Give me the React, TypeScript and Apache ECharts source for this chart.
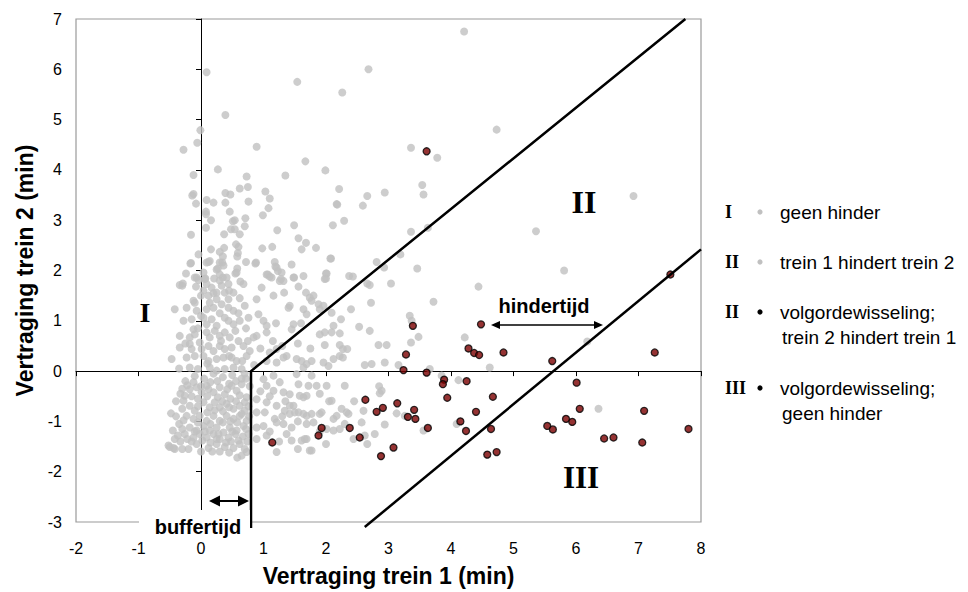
import React, { useEffect, useRef } from "react";
import * as echarts from "echarts";

// ---------- data ----------
const xAxisTitle = "Vertraging trein 1 (min)";
const yAxisTitle = "Vertraging trein 2 (min)";
const xRange = [-2, 8];
const yRange = [-3, 7];

// grey points: geen hinder / trein 1 hindert trein 2
const greyPoints: number[][] = [
  [0.09, 5.94], [0.39, 5.09], [-0.01, 4.79], [-0.06, 4.54], [-0.28, 4.4], [0.89, 4.46], [1.54, 5.75], [2.26, 5.54],
  [1.67, 4.17], [0.27, 4.01], [1.99, 3.99], [-0.12, 3.9], [0.73, 3.87], [0.75, 3.66], [0.62, 3.63], [1.35, 3.89],
  [2.21, 3.62], [-0.12, 3.52], [-0.14, 3.49], [0.39, 3.54], [0.47, 3.51], [1.03, 3.57], [0.09, 3.4], [0.2, 3.35],
  [-0.08, 3.33], [0.39, 3.35], [0.76, 3.37], [1.1, 3.43], [2.17, 3.32], [1.08, 3.24], [0.08, 3.17], [0.08, 3.12],
  [0.46, 3.17], [0.16, 3.0], [0.54, 3.0], [0.51, 2.98], [0.71, 3.04], [0.99, 3.1], [2.29, 2.99], [0.08, 2.85],
  [0.48, 2.82], [0.54, 2.82], [0.7, 2.88], [1.22, 2.8], [1.49, 2.9], [2.11, 2.9], [-0.16, 2.71], [0.37, 2.72],
  [0.62, 2.72], [1.56, 2.64], [1.68, 2.55], [1.61, 2.42], [1.84, 2.45], [0.16, 2.42], [0.56, 2.52], [0.6, 2.47],
  [0.37, 2.45], [0.3, 2.37], [0.59, 2.35], [0.98, 2.44], [1.14, 2.47], [-0.04, 2.32], [0.58, 2.28], [0.35, 2.28],
  [0.09, 2.16], [0.14, 2.19], [-0.16, 2.15], [0.34, 2.16], [0.72, 2.17], [0.88, 2.16], [1.18, 2.17], [2.08, 2.24],
  [0.27, 2.04], [0.58, 2.04], [1.07, 1.92], [1.1, 1.88], [1.19, 2.08], [1.23, 1.99], [-0.24, 1.94], [-0.07, 1.86],
  [-0.04, 1.81], [0.07, 1.84], [0.21, 1.84], [0.3, 1.8], [0.35, 1.86], [0.55, 1.94], [0.63, 1.78], [1.28, 1.83],
  [1.32, 1.79], [1.49, 1.86], [2.0, 1.94], [2.0, 1.84], [2.43, 1.88], [-0.29, 1.74], [-0.3, 1.7], [1.33, 1.56],
  [1.56, 1.68], [1.68, 1.56], [1.8, 1.5],
  [-0.17, 2.14], [0.12, 2.17], [0.3, 2.16], [0.36, 2.1], [0.87, 2.14], [1.21, 2.06], [1.45, 2.12], [-0.1, 1.86],
  [0.04, 1.96], [0.06, 1.83], [0.25, 2.02], [0.3, 1.92], [0.41, 1.86], [0.57, 1.96], [1.05, 1.92], [1.13, 1.86],
  [1.26, 1.79], [1.29, 1.96], [1.48, 1.86], [1.64, 1.89], [-0.34, 1.71], [-0.08, 1.68], [0.09, 1.73], [0.17, 1.66],
  [0.33, 1.7], [0.44, 1.73], [0.68, 1.73], [0.97, 1.66], [0.04, 1.6], [0.12, 1.5], [0.25, 1.56], [0.38, 1.56],
  [0.52, 1.56], [0.89, 1.43], [1.16, 1.5], [-0.12, 1.4], [-0.1, 1.36], [0.14, 1.36], [0.25, 1.43], [0.33, 1.33],
  [0.44, 1.43], [-0.42, 1.23], [-0.23, 1.26], [-0.07, 1.2], [0.09, 1.23], [0.2, 1.26], [0.44, 1.26], [0.52, 1.2],
  [0.76, 1.06], [0.92, 1.13], [1.0, 1.0], [1.05, 0.9], [1.4, 1.26], [1.64, 1.23], [1.69, 1.13], [-0.28, 1.0],
  [-0.15, 1.03], [-0.12, 0.83], [0.04, 1.06], [0.09, 0.93], [0.17, 1.03], [0.25, 0.9], [0.38, 1.06], [0.44, 1.0],
  [0.52, 0.93], [0.62, 1.0], [-0.34, 0.7], [-0.18, 0.67], [-0.1, 0.73], [0.09, 0.77], [0.14, 0.67], [0.22, 0.8],
  [0.3, 0.7], [0.38, 0.77], [0.46, 0.67], [0.84, 0.67], [1.05, 0.77], [-0.34, 0.47], [-0.18, 0.54], [-0.15, 0.44],
  [-0.02, 0.57], [0.01, 0.44], [0.12, 0.5], [0.2, 0.4], [0.3, 0.5], [0.38, 0.44], [0.49, 0.47], [0.68, 0.5],
  [0.78, 0.4], [-0.47, 0.24], [-0.23, 0.27], [-0.1, 0.3], [0.04, 0.3], [0.12, 0.2], [0.25, 0.24], [0.36, 0.27],
  [0.49, 0.27], [0.57, 0.2], [0.73, 0.3], [1.05, 0.2], [1.21, 0.17], [1.32, 0.27], [1.61, 0.2], [1.64, 0.07],
  [-0.18, 0.07], [-0.05, 0.04], [0.14, 0.07], [0.25, 0.01], [0.38, 0.04], [0.52, 0.07], [0.65, 0.04],
  [1.1, 0.37], [1.21, 0.44], [1.37, 0.3], [0.89, 0.7], [1.48, 0.93], [1.9, 0.73], [2.12, 0.9], [2.27, 0.44],
  [0.0, 1.5], [0.2, 1.55], [0.45, 1.6], [0.62, 1.45], [0.7, 1.3], [0.0, 1.1], [0.3, 1.15], [0.6, 1.15],
  [0.72, 0.85], [0.55, 0.8], [-0.05, 0.85], [0.32, 0.6], [0.6, 0.6], [0.75, 0.6], [-0.25, 0.55], [0.45, 0.3],
  [0.66, 0.2], [-0.35, 0.05], [0.1, 0.15], [0.85, 0.12],
  [-0.18, -0.36], [-0.26, -0.49], [-0.28, -0.59], [-0.07, -0.32], [0.01, -0.42], [0.09, -0.29], [0.2, -0.42],
  [0.3, -0.32], [0.38, -0.46], [0.49, -0.29], [0.57, -0.39], [0.65, -0.26], [0.73, -0.52], [-0.18, -0.69],
  [-0.1, -0.79], [-0.23, -0.89], [0.04, -0.62], [0.14, -0.72], [0.22, -0.62], [0.3, -0.72], [0.41, -0.65],
  [0.52, -0.75], [0.62, -0.69], [0.7, -0.79], [-0.48, -0.84], [-0.12, -0.95], [-0.02, -0.89], [0.09, -0.99],
  [0.2, -0.89], [0.3, -0.99], [0.41, -0.89], [0.52, -0.95], [0.62, -0.89], [0.73, -0.99], [-0.18, -1.12],
  [-0.07, -1.18], [0.04, -1.09], [0.14, -1.18], [0.25, -1.12], [0.36, -1.22], [0.46, -1.12], [0.57, -1.18],
  [0.68, -1.09], [-0.37, -1.28], [-0.26, -1.25], [-0.12, -1.32], [-0.02, -1.25], [0.09, -1.32], [0.2, -1.25],
  [0.3, -1.35], [0.44, -1.32], [0.6, -1.38], [-0.5, -1.51], [-0.42, -1.55], [-0.2, -1.55], [-0.07, -1.45],
  [0.12, -1.53], [0.25, -1.45], [0.38, -1.51], [0.52, -1.53], [0.62, -1.45], [0.7, -1.55], [0.65, -1.68],
  [0.73, -1.61], [-0.52, -1.48], [-0.44, -1.53],
  [-0.1, -0.1], [0.05, -0.15], [0.2, -0.05], [0.35, -0.12], [0.5, -0.08], [0.65, -0.15], [-0.25, -0.2],
  [0.15, -0.22], [0.45, -0.25], [0.7, -0.05], [-0.3, -0.75], [-0.35, -1.05], [-0.05, -0.55], [0.27, -0.52],
  [0.47, -0.55], [0.1, -0.82], [0.35, -0.8], [0.58, -1.02], [-0.15, -1.4], [0.15, -1.42], [0.4, -1.42],
  [0.55, -1.25], [-0.3, -0.35], [-0.4, -0.6], [0.0, -1.6], [0.3, -1.6], [0.78, -0.3], [0.76, -1.25], [0.72, -0.15],
  [-0.33, -0.45], [-0.22, -0.28], [-0.12, -0.22], [0.0, -0.3], [0.12, -0.36], [0.26, -0.2], [0.42, -0.36],
  [0.56, -0.2], [0.62, -0.48], [0.1, -0.5], [-0.15, -0.5], [0.34, -0.6], [0.56, -0.6], [0.7, -0.62], [-0.05, -0.7],
  [0.22, -0.78], [0.45, -0.72], [0.65, -0.85], [-0.28, -0.98], [-0.05, -1.02], [0.15, -1.05], [0.35, -1.02],
  [0.47, -1.0], [0.72, -1.15], [-0.45, -1.18], [-0.3, -1.15], [-0.1, -1.2], [0.06, -1.2], [0.28, -1.25],
  [0.5, -1.2], [0.67, -1.3], [-0.33, -1.4], [-0.22, -1.35], [0.02, -1.38], [0.25, -1.35], [0.48, -1.4],
  [0.74, -1.4], [-0.3, -1.55], [0.18, -1.6], [0.45, -1.62], [0.58, -1.72], [-0.4, -0.9], [-0.42, -1.35],
  [0.76, -0.7], [0.77, -0.9],
  [1.0, -0.16], [1.16, -0.09], [1.26, -0.22], [1.16, -0.39], [1.32, -0.42], [0.89, -0.56], [1.05, -0.62],
  [1.56, -0.26], [1.64, -0.52], [1.21, -0.69], [0.89, -0.82], [1.02, -0.82], [1.34, -0.79], [1.42, -0.85],
  [1.56, -0.82], [1.18, -0.95], [1.21, -1.02], [0.89, -1.12], [1.0, -1.09], [1.32, -1.05], [1.45, -1.12],
  [1.69, -1.05], [0.89, -1.35], [1.37, -1.25], [1.45, -1.38], [1.69, -1.35], [1.21, -1.61],
  [1.05, -0.29], [1.42, -0.46], [1.58, -0.49], [1.48, -0.69], [1.69, -0.89], [1.8, -1.02], [1.9, -0.85],
  [2.12, -0.95], [2.33, -0.82], [2.44, -1.35], [1.74, -1.58], [1.05, -1.28],
  [0.95, 0.45], [1.15, 0.6], [1.3, 0.5], [1.55, 0.55], [1.75, 0.45], [1.2, 0.95], [1.6, 0.95], [0.95, -0.4],
  [1.1, -0.5], [1.35, -0.6], [1.9, -0.45], [2.05, -0.6], [1.3, -0.9], [1.55, -1.0], [1.9, -1.2], [1.1, -1.2],
  [1.25, -1.4], [1.55, -1.55], [2.3, -1.05], [2.45, -0.6], [2.0, -1.45],
  [2.07, 2.24], [2.81, 2.17], [2.93, 2.06], [3.46, 2.04], [2.01, 1.94], [1.98, 1.83], [2.37, 1.89], [2.66, 1.74],
  [2.7, 1.71], [3.04, 1.74], [1.74, 1.46], [1.77, 1.4], [1.88, 1.33], [1.96, 1.3], [1.9, 1.23], [1.42, 1.3],
  [2.09, 1.16], [2.4, 1.23], [2.72, 1.36], [3.72, 1.38], [4.44, 1.68], [5.81, 2.0], [3.34, 1.1], [3.37, 1.0],
  [2.24, 1.03], [2.53, 0.88], [2.7, 0.8], [1.45, 0.83], [1.98, 0.77], [2.09, 0.77], [2.22, 0.75], [3.48, 0.68],
  [3.36, 0.57], [4.22, 0.67], [1.98, 0.52], [2.22, 0.52], [2.84, 0.52], [2.97, 0.52], [2.34, 0.44], [2.22, 0.3],
  [2.27, 0.27], [2.12, 0.24], [2.94, 0.17], [2.62, 0.12], [2.73, 0.14], [1.96, 0.17], [2.04, 0.1], [1.53, 0.24],
  [1.69, 0.14], [1.77, 0.2], [3.16, 0.12], [4.62, 0.07], [3.66, 0.04], [3.85, -0.09], [4.12, -0.18], [1.77, -0.09],
  [1.53, -0.06], [1.72, -0.29], [1.85, -0.29], [2.01, -0.29], [2.3, -0.29], [2.85, -0.3], [2.89, -0.39],
  [2.86, -0.44], [2.09, -0.59], [1.69, -0.49], [1.42, -0.69], [1.5, -0.82], [1.64, -0.85], [1.77, -0.85],
  [1.93, -0.82], [2.25, -0.75], [2.17, -0.89], [2.36, -0.85], [2.6, -0.79], [2.57, -1.02], [2.94, -1.06],
  [3.26, -0.89], [3.13, -0.84], [3.56, -1.18], [4.09, -1.05], [2.78, -1.25], [2.62, -1.28], [2.22, -1.15],
  [2.12, -1.18], [2.01, -1.15], [1.66, -1.35], [1.61, -1.38], [1.77, -1.58], [2.66, -1.45],
  [4.21, 6.75], [2.68, 6.0], [4.73, 4.8], [3.36, 4.44], [3.78, 4.24], [3.54, 3.7], [3.56, 3.51], [2.94, 3.55],
  [2.66, 3.48], [2.59, 3.29], [2.18, 3.31], [3.36, 2.77], [3.63, 2.85], [3.19, 2.32], [6.92, 3.48], [5.36, 2.78],
  [6.18, 0.59], [6.36, -0.75],
];

// dark points: volgordewisseling
const darkPoints: number[][] = [
  [3.39, 0.9], [3.28, 0.33], [3.24, 0.02], [3.61, -0.03], [3.89, -0.17], [3.87, -0.26], [4.25, -0.2], [3.94, -0.53],
  [4.67, -0.51], [4.4, -0.81], [4.15, -1.0], [4.24, -1.19], [4.64, -1.15], [4.58, -1.66], [4.73, -1.61], [4.48, 0.93],
  [4.28, 0.45], [4.37, 0.36], [4.45, 0.32], [4.84, 0.37], [5.62, 0.2], [5.54, -1.09], [5.63, -1.16], [5.84, -0.95],
  [5.94, -1.01], [2.63, -0.57], [3.14, -0.64], [2.91, -0.73], [2.81, -0.81], [3.41, -0.77], [3.31, -0.91],
  [3.43, -0.95], [3.63, -1.13], [1.93, -1.13], [1.88, -1.28], [2.38, -1.13], [2.54, -1.32], [3.08, -1.52],
  [2.88, -1.69], [1.14, -1.42], [3.61, 4.37], [7.51, 1.92], [7.26, 0.37], [6.01, -0.23], [6.06, -0.75],
  [7.09, -0.79], [6.45, -1.34], [6.6, -1.32], [7.06, -1.42], [7.8, -1.15],
];

// region boundaries
const boundaryUpper: number[][] = [[0.8, -3.12], [0.8, 0], [7.75, 7]];
const boundaryLower: number[][] = [[2.62, -3.1], [8, 2.42]];

const regionNames = ["I", "II", "III"];
const annotationTexts = ["hindertijd", "buffertijd"];
const legendNumerals = ["I", "II", "II", "III"];
const legendLabels: string[][] = [
  ["geen hinder"],
  ["trein 1 hindert trein 2"],
  ["volgordewisseling;", "trein 2 hindert trein 1"],
  ["volgordewisseling;", "geen hinder"],
];
const legendDotKinds = ["grey", "grey", "dark", "dark"];

// ---------- styling ----------
const SANS = '"Liberation Sans", Arial, Helvetica, sans-serif';
const SERIF = '"Liberation Serif", "Times New Roman", serif';
const GREY = "#c0c0c0";
const DARK = "#7a0000";

function txt(text: string, x: number, y: number, font: string, align = "center", vAlign = "middle") {
  return {
    type: "text",
    z: 60,
    style: {
      text,
      x,
      y,
      font,
      fill: "#000",
      align,
      verticalAlign: vAlign,
      textAlign: align,
      textVerticalAlign: vAlign,
    },
  };
}

function arrow(x1: number, x2: number, y: number, head: number, half: number, width: number) {
  return [
    {
      type: "line",
      z: 60,
      shape: { x1: x1 + head - 1, y1: y, x2: x2 - head + 1, y2: y },
      style: { stroke: "#000", lineWidth: width },
    },
    {
      type: "polygon",
      z: 60,
      shape: { points: [[x1, y], [x1 + head, y - half], [x1 + head, y + half]] },
      style: { fill: "#000" },
    },
    {
      type: "polygon",
      z: 60,
      shape: { points: [[x2, y], [x2 - head, y - half], [x2 - head, y + half]] },
      style: { fill: "#000" },
    },
  ];
}

export default function App() {
  const ref = useRef<HTMLDivElement>(null);

  useEffect(() => {
    if (!ref.current) return;
    const chart = echarts.init(ref.current, undefined, { renderer: "svg" });

    const graphics: any[] = [];
    // region numerals
    const regionPos = [[145, 312, 28], [584, 202, 32], [581, 477, 31]];
    regionNames.forEach((n, i) => {
      const [x, y, s] = regionPos[i];
      graphics.push(txt(n, x, y, `bold ${s}px ${SERIF}`));
    });
    // hindertijd
    graphics.push(txt(annotationTexts[0], 544, 306, `bold 20px ${SANS}`));
    graphics.push(...arrow(491, 603, 325, 9, 4, 1.3));
    // buffertijd (white box hides frame and axis)
    graphics.push({
      type: "rect",
      z: 55,
      shape: { x: 139, y: 510, width: 111, height: 20 },
      style: { fill: "#fff" },
    });
    graphics.push(txt(annotationTexts[1], 198, 527, `bold 20px ${SANS}`));
    graphics.push(...arrow(209, 249, 501, 11, 5.5, 2));

    // legend
    const rowY = [212, 262, 312, 388];
    legendNumerals.forEach((n, i) => {
      const y = rowY[i];
      graphics.push(txt(n, 725, y, `bold 18px ${SERIF}`, "left"));
      graphics.push({
        type: "circle",
        z: 60,
        shape: { cx: 760, cy: y, r: 2.6 },
        style: { fill: legendDotKinds[i] === "grey" ? GREY : "#000" },
      });
      legendLabels[i].forEach((line, j) => {
        graphics.push(txt(line, j === 0 ? 780 : 782, y + j * 25, `19px ${SANS}`, "left"));
      });
    });

    chart.setOption({
      animation: false,
      textStyle: { fontFamily: SANS },
      grid: {
        left: 76,
        top: 19,
        width: 625,
        height: 504,
        show: true,
        borderColor: "#9a9a9a",
        borderWidth: 1.2,
        backgroundColor: "transparent",
      },
      xAxis: [
        {
          type: "value",
          min: xRange[0],
          max: xRange[1],
          interval: 1,
          position: "bottom",
          axisLine: { show: false, onZero: false },
          axisTick: { show: false },
          splitLine: { show: false },
          axisLabel: { fontSize: 16, color: "#000", margin: 18 },
          name: xAxisTitle,
          nameLocation: "middle",
          nameGap: 42,
          nameTextStyle: { fontSize: 23, fontWeight: "bold", color: "#000" },
        },
        {
          type: "value",
          min: xRange[0],
          max: xRange[1],
          interval: 1,
          position: "top",
          axisLine: { show: true, onZero: true, lineStyle: { color: "#000", width: 1 } },
          axisTick: { show: true, inside: true, length: 5, lineStyle: { color: "#000", width: 1 } },
          axisLabel: { show: false },
          splitLine: { show: false },
        },
      ],
      yAxis: [
        {
          type: "value",
          min: yRange[0],
          max: yRange[1],
          interval: 1,
          position: "left",
          axisLine: { show: false, onZero: false },
          axisTick: { show: false },
          splitLine: { show: false },
          axisLabel: { fontSize: 16, color: "#000", margin: 14 },
          name: yAxisTitle,
          nameLocation: "middle",
          nameGap: 40,
          nameTextStyle: { fontSize: 23, fontWeight: "bold", color: "#000" },
        },
        {
          type: "value",
          min: yRange[0],
          max: yRange[1],
          interval: 1,
          position: "right",
          axisLine: { show: true, onZero: true, lineStyle: { color: "#000", width: 1 } },
          axisTick: { show: true, inside: true, length: 5, lineStyle: { color: "#000", width: 1 } },
          axisLabel: { show: false },
          splitLine: { show: false },
        },
      ],
      series: [
        {
          type: "scatter",
          name: "grey",
          data: greyPoints,
          symbol: "circle",
          symbolSize: 8,
          itemStyle: { color: GREY },
          z: 2,
        },
        {
          type: "scatter",
          name: "dark",
          data: darkPoints,
          symbol: "circle",
          symbolSize: 7,
          itemStyle: { color: DARK, borderColor: "#000", borderWidth: 1.3 },
          z: 3,
        },
        {
          type: "line",
          data: boundaryUpper,
          symbol: "none",
          clip: false,
          lineStyle: { color: "#000", width: 2.5 },
          z: 4,
        },
        {
          type: "line",
          data: boundaryLower,
          symbol: "none",
          clip: false,
          lineStyle: { color: "#000", width: 2.5 },
          z: 4,
        },
      ],
      graphic: { elements: graphics },
    });

    return () => chart.dispose();
  }, []);

  return (
    <div
      ref={ref}
      style={{ position: "absolute", left: 0, top: 0, width: 968, height: 592, background: "#fff" }}
    />
  );
}
